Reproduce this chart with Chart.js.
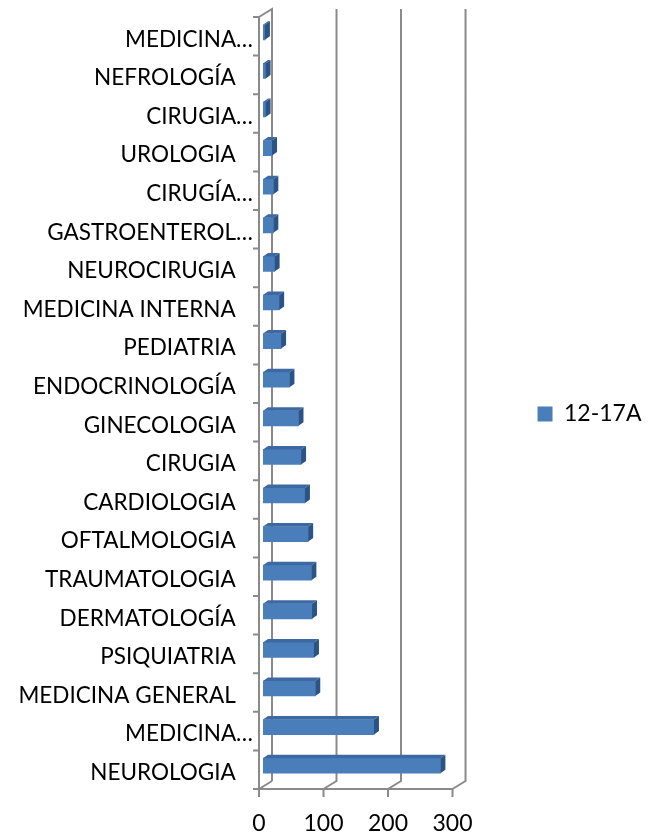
<!DOCTYPE html>
<html>
<head>
<meta charset="utf-8">
<script src="https://cdn.jsdelivr.net/npm/chart.js@4.4.1/dist/chart.umd.min.js"></script>
<style>
body{margin:0;background:#fff;overflow:hidden}
#wrap{width:654px;height:836px}
#myChart{display:block}
</style>
</head>
<body>
<div id="wrap"><canvas id="myChart" width="654" height="836"></canvas></div>
<script>
// data, top row first
const categories = ['MEDICINA…', 'NEFROLOGÍA', 'CIRUGIA…', 'UROLOGIA', 'CIRUGÍA…', 'GASTROENTEROL…',
    'NEUROCIRUGIA', 'MEDICINA INTERNA', 'PEDIATRIA', 'ENDOCRINOLOGÍA', 'GINECOLOGIA', 'CIRUGIA',
    'CARDIOLOGIA', 'OFTALMOLOGIA', 'TRAUMATOLOGIA', 'DERMATOLOGÍA', 'PSIQUIATRIA', 'MEDICINA GENERAL',
    'MEDICINA…', 'NEUROLOGIA'];
const values = [3, 4, 4, 14, 16, 16, 18, 25, 28, 41, 55, 59, 65, 70, 75, 76, 79, 81, 172, 275];
const xTicks = [0, 100, 200, 300];
const seriesName = '12-17A';

Chart.defaults.font.family = 'Lato';
Chart.defaults.color = '#000';

// fake 3d look, excel style
const frontColor = '#4a7ebb';
const topColor = '#3c69a2';
const sideColor = '#2c5385';
const lineGrey = '#8a8a8a';
const wallDepth = {x: 13, y: -8};
const frontShift = {x: -4, y: 4};
const barDepth = {x: 5, y: -3.5};

const walls = {
    id: 'walls',
    beforeDatasetsDraw(chart){
        const {ctx, chartArea} = chart;
        const xs = chart.scales.x;
        const fx0 = chartArea.left + frontShift.x;
        const fy0 = chartArea.top + frontShift.y;
        const fy1 = chartArea.bottom + frontShift.y;
        ctx.save();
        ctx.strokeStyle = lineGrey;
        ctx.lineWidth = 2;
        ctx.beginPath();
        // left wall
        ctx.moveTo(fx0, fy1);
        ctx.lineTo(fx0, fy0);
        ctx.lineTo(fx0 + wallDepth.x, fy0 + wallDepth.y);
        ctx.lineTo(fx0 + wallDepth.x, fy1 + wallDepth.y);
        // category ticks
        for(let i = 0; i <= categories.length; i++){
            const y = fy0 + (fy1 - fy0) * i / categories.length;
            ctx.moveTo(fx0 - 6, y);
            ctx.lineTo(fx0, y);
        }
        // floor and back gridlines
        ctx.moveTo(fx0, fy1);
        ctx.lineTo(xs.getPixelForValue(xTicks[xTicks.length - 1]) + frontShift.x, fy1);
        xTicks.forEach(v => {
            const x = xs.getPixelForValue(v) + frontShift.x;
            ctx.moveTo(x, fy1 + 8);
            ctx.lineTo(x, fy1);
            ctx.lineTo(x + wallDepth.x, fy1 + wallDepth.y);
            if(v > 0) ctx.lineTo(x + wallDepth.x, fy0 + wallDepth.y);
        });
        ctx.stroke();
        ctx.restore();
    },
    afterDatasetsDraw(chart){
        const ctx = chart.ctx;
        const meta = chart.getDatasetMeta(0);
        ctx.save();
        meta.data.forEach(bar => {
            const {x, y, base, height} = bar.getProps(['x', 'y', 'base', 'height'], true);
            const t = y - height / 2, b = y + height / 2;
            ctx.fillStyle = topColor;
            ctx.beginPath();
            ctx.moveTo(base, t);
            ctx.lineTo(x, t);
            ctx.lineTo(x + barDepth.x, t + barDepth.y);
            ctx.lineTo(base + barDepth.x, t + barDepth.y);
            ctx.closePath();
            ctx.fill();
            ctx.fillStyle = sideColor;
            ctx.beginPath();
            ctx.moveTo(x, t);
            ctx.lineTo(x, b);
            ctx.lineTo(x + barDepth.x, b + barDepth.y);
            ctx.lineTo(x + barDepth.x, t + barDepth.y);
            ctx.closePath();
            ctx.fill();
        });
        ctx.restore();
    }
};

let ctx = document.getElementById('myChart');
let myChart = new Chart(ctx, {
    type: 'bar',
    data: {
        labels: categories,
        datasets: [{
            label: seriesName,
            data: values,
            backgroundColor: frontColor,
            borderWidth: 0,
            barThickness: 15
        }]
    },
    options: {
        indexAxis: 'y',
        responsive: false,
        animation: false,
        // negative top keeps the legend centred where excel had it
        layout: {padding: {top: -8, right: 2.5, bottom: 0, left: 0}},
        scales: {
            x: {
                min: 0,
                max: 300,
                grid: {display: false, drawTicks: false},
                border: {display: false},
                ticks: {stepSize: 100, padding: 25, labelOffset: -4, font: {size: 23}},
                afterFit: s => { s.height = 51; s.paddingLeft = 0; s.paddingRight = 0; }
            },
            y: {
                grid: {display: false, drawTicks: false},
                border: {display: false},
                ticks: {
                    padding: 10,
                    labelOffset: 7,
                    autoSkip: false,
                    font: {size: 22.5},
                    callback: (v, i) => categories[i].endsWith('…') ? categories[i] : categories[i] + '   '
                },
                afterFit: s => { s.width = 263; s.paddingTop = 13; s.paddingBottom = 0; }
            }
        },
        plugins: {
            tooltip: {enabled: false},
            legend: {
                position: 'right',
                maxWidth: 220,
                labels: {boxWidth: 15, boxHeight: 15, padding: 81, font: {size: 23}}
            }
        }
    },
    plugins: [walls]
});
</script>
</body>
</html>
